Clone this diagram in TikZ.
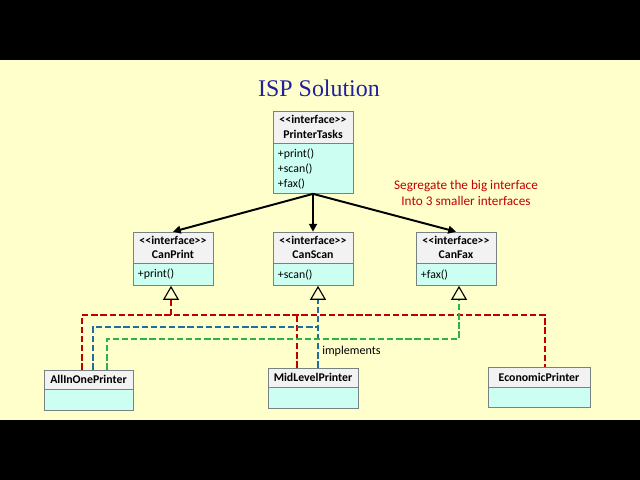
\documentclass[tikz,border=0pt]{standalone}
\usepackage{fontspec}
\setmainfont{Carlito}
\newfontfamily\titlefont{Liberation Serif}
\usetikzlibrary{positioning,arrows.meta}
\definecolor{slidebg}{RGB}{255,255,204}
\definecolor{hdgray}{RGB}{242,242,242}
\definecolor{bdcyan}{RGB}{204,255,242}
\definecolor{boxline}{RGB}{120,130,130}
\definecolor{dred}{RGB}{192,0,0}
\definecolor{dblue}{RGB}{31,110,160}
\definecolor{dgreen}{RGB}{40,180,70}
\definecolor{ttlblue}{RGB}{32,32,160}
\newcommand{\intf}{<{}<interface>{}>}

\begin{document}
\begin{tikzpicture}[x=0.025cm,y=-0.025cm,
    hd/.style={draw=boxline, fill=hdgray, font=\fontsize{8.4}{10.5}\selectfont\bfseries,
      align=center, inner sep=0pt, minimum width=2cm},
    bd/.style={draw=boxline, fill=bdcyan, font=\fontsize{8.4}{10.7}\selectfont,
      align=left, inner xsep=0.125cm, inner ysep=0pt, text width=1.75cm},
    impl/.style={dash pattern=on 4.5pt off 2pt, line width=1.4pt},
    tri/.style={-{Triangle[open, length=0.35cm, width=0.4cm, color=black, line width=0.8pt]}},
    gen/.style={line width=1.4pt, -{Triangle[length=5.5pt, width=5.5pt]}},
    txt/.style={font=\fontsize{8.6}{11}\selectfont}]
  \useasboundingbox (0,0) rectangle (640,480);
  \fill[black] (0,0) rectangle (640,480);
  \fill[slidebg] (0,60) rectangle (640,420);

  \node[font=\titlefont\fontsize{17}{20}\selectfont, text=ttlblue] (ttl) at (319,88) {ISP Solution};

  % big interface
  \node[hd, minimum height=0.8cm] (pt1) at (313,127) {\intf\\PrinterTasks};
  \node[bd, minimum height=1.25cm, below=0pt of pt1] (pt2) {+print()\\+scan()\\+fax()};

  % small interfaces
  \node[hd, minimum height=0.775cm] (cp1) at (173,247.5) {\intf\\CanPrint};
  \node[bd, minimum height=0.55cm, below=0pt of cp1] (cp2) {+print()};
  \node[hd, minimum height=0.775cm] (cs1) at (313,247.5) {\intf\\CanScan};
  \node[bd, minimum height=0.55cm, below=0pt of cs1] (cs2) {+scan()};
  \node[hd, minimum height=0.775cm] (cf1) at (456,247.5) {\intf\\CanFax};
  \node[bd, minimum height=0.55cm, below=0pt of cf1] (cf2) {+fax()};

  % printers
  \node[hd, minimum height=0.475cm, minimum width=2.225cm] (aio1) at (88.5,379.5) {AllInOnePrinter};
  \node[bd, minimum height=0.525cm, text width=1.975cm, below=0pt of aio1] (aio2) {};
  \node[hd, minimum height=0.475cm, minimum width=2.25cm] (mlp1) at (313,377.5) {MidLevelPrinter};
  \node[bd, minimum height=0.525cm, text width=2cm, below=0pt of mlp1] (mlp2) {};
  \node[hd, minimum height=0.5cm, minimum width=2.55cm] (eco1) at (539,377) {EconomicPrinter};
  \node[bd, minimum height=0.5cm, text width=2.3cm, below=0pt of eco1] (eco2) {};

  \node[font=\fontsize{9.4}{11.4}\selectfont, text=dred, align=center] (note) at (466,193) {Segregate the big interface\\Into 3 smaller interfaces};
  \node[txt, anchor=west, inner sep=0pt] (lbl) at (322,351) {implements};

  \draw[gen] (pt2.south) -- (cp1.north);
  \draw[gen] (pt2.south) -- (cs1.north);
  \draw[gen] (pt2.south) -- (cf1.north);

  \draw[impl, dred] (aio1.north -| 82,0) |- (545,315) -- (eco1.north -| 545,0);
  \draw[impl, dred] (mlp1.north -| 297,0) -- (297,315);
  \draw[impl, dred, tri] (171,315) -- (cp2.south -| 171,0);
  \draw[impl, dblue] (aio1.north -| 93,0) |- (318,327);
  \draw[impl, dblue, tri] (mlp1.north -| 318,0) -- (cs2.south -| 318,0);
  \draw[impl, dgreen, tri] (aio1.north -| 107,0) |- (459,339) -- (cf2.south -| 459,0);
\end{tikzpicture}
\end{document}
